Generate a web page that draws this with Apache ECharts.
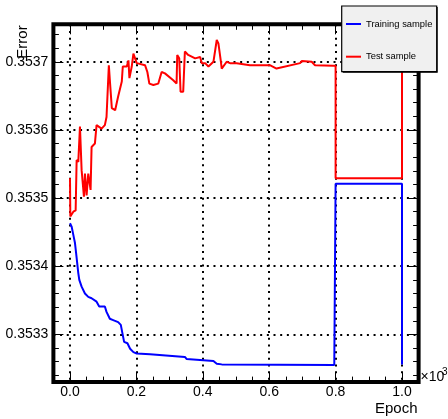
<!DOCTYPE html>
<html><head><meta charset="utf-8">
<script src="https://cdn.jsdelivr.net/npm/echarts@6/dist/echarts.min.js"></script>
<style>html,body{margin:0;padding:0;background:#fff}#c{width:448px;height:419px}</style>
</head><body><div id="c"></div>
<script>
const seriesNames = ['Training sample', 'Test sample'];
const trainEpochs = [0,5,10,15,18,25,28,35,45,55,65,80,88,105,110,120,130,145,153,159,163,173,181,191,201,241,346,351,432,442,457,796,800,800,1000,1000];
const trainError = [0.353463,0.353458,0.353446,0.353434,0.353421,0.353390,0.353380,0.353370,0.353360,0.353355,0.353353,0.353348,0.353341,0.353341,0.353333,0.353323,0.353321,0.353318,0.353314,0.353299,0.353289,0.353287,0.353279,0.353274,0.353272,0.353271,0.353267,0.353264,0.353261,0.353257,0.353256,0.353255,0.353255,0.353521,0.353521,0.353256];
const testEpochs = [0,1,10,17,20,25,30,35,42,45,50,55,62,65,75,80,95,105,110,117,120,126,136,145,156,159,171,176,179,186,191,201,226,233,239,251,266,276,286,311,321,323,329,333,341,346,356,377,392,397,407,417,432,442,447,454,457,472,482,502,542,602,622,693,698,728,738,793,800,800,1000,1000];
const testError = [0.353529,0.353473,0.353480,0.353482,0.353556,0.353553,0.353605,0.353541,0.353502,0.353536,0.353504,0.353536,0.353512,0.353575,0.353580,0.353607,0.353602,0.353607,0.353619,0.353695,0.353673,0.353632,0.353629,0.353649,0.353671,0.353693,0.353693,0.353702,0.353676,0.353693,0.353712,0.353698,0.353695,0.353685,0.353668,0.353666,0.353668,0.353685,0.353683,0.353673,0.353668,0.353710,0.353705,0.353656,0.353656,0.353715,0.353710,0.353705,0.353707,0.353698,0.353698,0.353693,0.353700,0.353732,0.353727,0.353702,0.353690,0.353700,0.353698,0.353698,0.353695,0.353695,0.353690,0.353698,0.353701,0.353700,0.353695,0.353694,0.353694,0.353529,0.353529,0.353695];
const xTickValues = [0,200,400,600,800,1000];
const yTickValues = [0.3533,0.3534,0.3535,0.3536,0.3537];
const xRange = [-50, 1050];
const yRange = [0.35323, 0.353755];

const FONT = '"Liberation Sans", Arial, Helvetica, sans-serif';
const xMinor = []; for (let k = -1; k <= 21; k++) xMinor.push(k * 50);
const yMinor = []; for (let k = 17662; k <= 17687; k++) yMinor.push(+(k * 0.00002).toFixed(6));

const dotted = {type: [2, 4.67], width: 2, color: '#000'};
function xAxisDef(pos, ticks, len, main) {
  return {
    type: 'value', gridIndex: 0, position: pos, offset: 0, min: xRange[0], max: xRange[1],
    axisLine: {show: false, onZero: false},
    axisTick: {show: true, inside: true, length: len, customValues: ticks, lineStyle: {color: '#000', width: 1}},
    axisLabel: main ? {show: true, customValues: xTickValues, formatter: v => (v / 1000).toFixed(1),
      fontSize: 14, color: '#000', fontFamily: FONT, margin: 3} : {show: false},
    splitLine: main ? {show: true, lineStyle: dotted} : {show: false}
  };
}
function yAxisDef(pos, ticks, len, main) {
  return {
    type: 'value', gridIndex: 0, position: pos, offset: 0, min: yRange[0], max: yRange[1], scale: true,
    axisLine: {show: false, onZero: false},
    axisTick: {show: true, inside: true, length: len, customValues: ticks, lineStyle: {color: '#000', width: 1}},
    axisLabel: main ? {show: true, customValues: yTickValues, formatter: v => v.toFixed(4),
      fontSize: 14, color: '#000', fontFamily: FONT, margin: 5} : {show: false},
    splitLine: main ? {show: true, lineStyle: dotted} : {show: false}
  };
}

const chart = echarts.init(document.getElementById('c'), null, {renderer: 'canvas'});
chart.setOption({
  animation: false,
  backgroundColor: '#fff',
  grid: {left: 53.4, top: 24.3, width: 365.2, height: 357.8, show: true, borderColor: '#000', borderWidth: 4,
    backgroundColor: 'transparent', outerBoundsMode: 'none', containLabel: false},
  xAxis: [xAxisDef('bottom', xTickValues, 10, true), xAxisDef('bottom', xMinor, 5.5, false),
          xAxisDef('top', xTickValues, 10, false), xAxisDef('top', xMinor, 5.5, false)],
  yAxis: [yAxisDef('left', yTickValues, 10, true), yAxisDef('left', yMinor, 5.5, false),
          yAxisDef('right', yTickValues, 10, false), yAxisDef('right', yMinor, 5.5, false)],
  legend: [
    {data: [seriesNames[0]], left: 346, top: 18, padding: 0, orient: 'vertical', icon: 'rect', itemWidth: 15, itemHeight: 2,
     textStyle: {fontSize: 9.4, color: '#000', fontFamily: FONT, lineHeight: 12}, z: 20, selectedMode: false},
    {data: [seriesNames[1]], left: 346, top: 50.7, padding: 0, orient: 'vertical', icon: 'rect', itemWidth: 15, itemHeight: 2,
     textStyle: {fontSize: 9.4, color: '#000', fontFamily: FONT, lineHeight: 12}, z: 20, selectedMode: false}
  ],
  series: [
    {name: seriesNames[0], type: 'line', xAxisIndex: 0, yAxisIndex: 0, showSymbol: false, symbol: 'none',
     data: trainEpochs.map((e, i) => [e, trainError[i]]),
     lineStyle: {color: '#0000ff', width: 2}, itemStyle: {color: '#0000ff'}, z: 3},
    {name: seriesNames[1], type: 'line', xAxisIndex: 0, yAxisIndex: 0, showSymbol: false, symbol: 'none',
     data: testEpochs.map((e, i) => [e, testError[i]]),
     lineStyle: {color: '#ff0000', width: 2}, itemStyle: {color: '#ff0000'}, z: 3}
  ],
  graphic: [
    {type: 'rect', z: 10, shape: {x: 342.7, y: 7, width: 95, height: 65.7}, style: {fill: '#000'}},
    {type: 'rect', z: 11, shape: {x: 341.7, y: 6, width: 95, height: 65.7}, style: {fill: '#f0f0f0', stroke: '#000', lineWidth: 1.2}},
    {type: 'text', z: 12, x: 22.5, y: 42, rotation: Math.PI / 2,
     style: {text: 'Error', font: '15px ' + FONT, fill: '#000', textAlign: 'center', textVerticalAlign: 'middle'}},
    {type: 'text', z: 12, x: 417.5, y: 408.5,
     style: {text: 'Epoch', font: '15px ' + FONT, fill: '#000', textAlign: 'right', textVerticalAlign: 'middle'}},
    {type: 'text', z: 12, x: 420.5, y: 377,
     style: {text: '×10', font: '14px ' + FONT, fill: '#000', textAlign: 'left', textVerticalAlign: 'middle'}},
    {type: 'text', z: 12, x: 442, y: 372.5,
     style: {text: '3', font: '10px ' + FONT, fill: '#000', textAlign: 'left', textVerticalAlign: 'middle'}}
  ]
});
</script></body></html>
